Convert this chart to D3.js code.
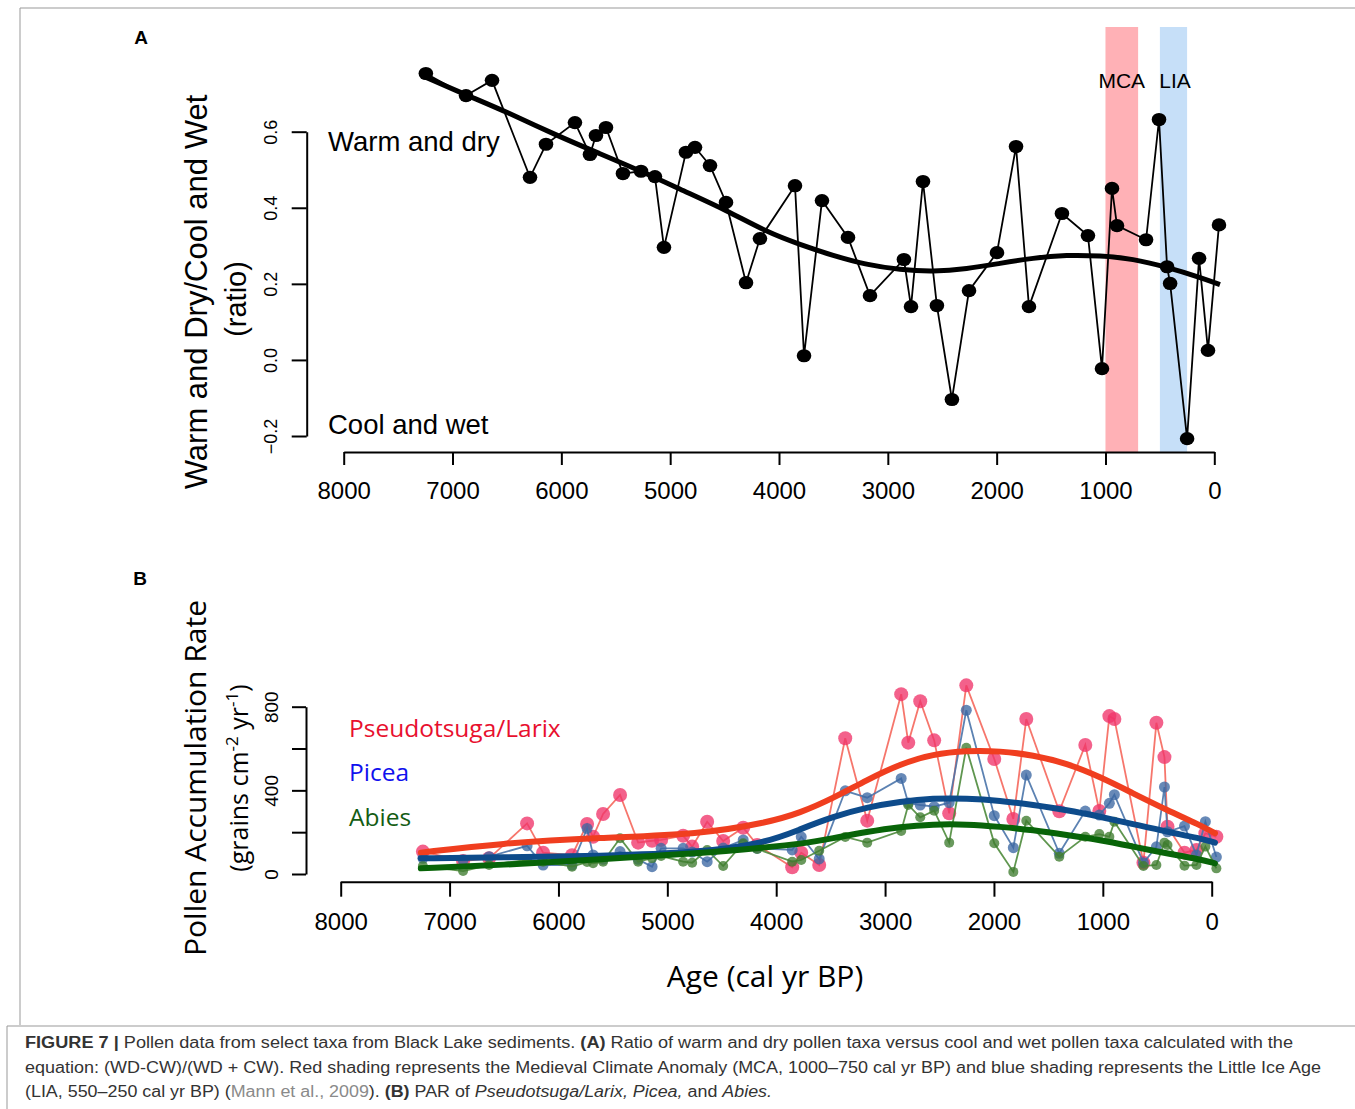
<!DOCTYPE html>
<html>
<head>
<meta charset="utf-8">
<script src="https://cdn.jsdelivr.net/npm/d3@7"></script>
<style>
  body { margin: 0; background: #fff; }
  svg text { font-family: "Liberation Sans", Arial, sans-serif; }
  .myr { font-family: "Open Sans", "Noto Sans", sans-serif !important; }
</style>
</head>
<body>
<div id="chart"></div>
<script>
// sample ages (cal yr BP), shared by both panels
const ages = [7245, 6876, 6637, 6288, 6141, 5875, 5737, 5682, 5590, 5434, 5268, 5140, 5057, 4855, 4772, 4634,
  4487, 4303, 4175, 3853, 3770, 3605, 3366, 3164, 2852, 2787, 2677, 2549, 2411, 2254, 1997, 1822,
  1703, 1400, 1161, 1032, 940, 894, 627, 508, 434, 406, 250, 140, 58, -43];

// panel A: (WD-CW)/(WD+CW) ratio
const ratio = [0.753, 0.695, 0.735, 0.480, 0.567, 0.624, 0.540, 0.590, 0.611, 0.490, 0.496, 0.482, 0.296, 0.546, 0.559, 0.511,
  0.414, 0.203, 0.319, 0.458, 0.011, 0.419, 0.322, 0.169, 0.264, 0.140, 0.469, 0.143, -0.104, 0.182, 0.282, 0.561,
  0.140, 0.385, 0.327, -0.023, 0.451, 0.353, 0.316, 0.632, 0.245, 0.201, -0.207, 0.267, 0.025, 0.355];

// smooth fit
const ratioFitAge = [7253, 6869, 6502, 6042, 5645, 5249, 4882, 4480, 4113, 3806, 3503, 3194, 2888, 2585, 2275, 1969, 1666, 1356, 1051, 748, 437, 131, -52];
const ratioFit = [0.744, 0.696, 0.652, 0.590, 0.542, 0.494, 0.445, 0.393, 0.336, 0.303, 0.274, 0.250, 0.237, 0.232, 0.239, 0.254, 0.268, 0.276, 0.274, 0.266, 0.244, 0.217, 0.198];

// shaded periods
const mca = [1000, 700];
const lia = [500, 250];

// panel B: pollen accumulation rate
const larix = [107, 62, 75, 242, 102, 90, 239, 178, 287, 378, 150, 159, 163, 183, 131, 250,
  158, 221, 139, 32, 102, 43, 649, 255, 860, 628, 826, 639, 290, 902, 550, 263,
  741, 300, 617, 301, 755, 741, 54, 723, 559, 226, 102, 115, 195, 178];
const picea = [75, 67, 83, 135, 43, 43, 218, 91, 70, 107, 70, 35, 123, 123, 105, 59,
  124, 163, 123, 115, 178, 72, 398, 365, 457, 340, 330, 322, 341, 783, 279, 126,
  473, 99, 301, 282, 338, 379, 54, 130, 416, 202, 229, 91, 250, 81];
const abies = [38, 14, 43, 67, 59, 35, 57, 51, 59, 171, 59, 76, 86, 59, 54, 115,
  38, 147, 120, 59, 67, 111, 177, 150, 206, 330, 271, 303, 150, 604, 147, 10,
  255, 83, 178, 191, 178, 250, 38, 43, 150, 139, 40, 43, 131, 27];

const fitAgeB = [7264, 6535, 5617, 4699, 4086, 3780, 3477, 3168, 2862, 2559, 2250, 1944, 1641, 1331, 1026, 723, 413, 107, -30];
const larixFit = [102, 147, 174, 190, 245, 292, 362, 450, 526, 574, 590, 588, 569, 529, 465, 386, 306, 234, 195];
const piceaFit = [75, 80, 86, 102, 150, 214, 274, 319, 346, 362, 362, 351, 330, 306, 274, 239, 202, 171, 150];
const abiesFit = [27, 43, 70, 99, 128, 143, 171, 202, 226, 238, 238, 226, 210, 187, 163, 131, 99, 70, 51];

const xTicks = [8000, 7000, 6000, 5000, 4000, 3000, 2000, 1000, 0];

const W = 1355, H = 1109;
const svg = d3.select("#chart").append("svg").attr("width", W).attr("height", H);

// frame lines
svg.append("path").attr("d", "M20,1025 V8 H1355").attr("fill", "none").attr("stroke", "#999").attr("stroke-width", 1);
svg.append("path").attr("d", "M7,1109 V1026 H1355").attr("fill", "none").attr("stroke", "#999").attr("stroke-width", 1);

// ---------------- panel A ----------------
const xA = d3.scaleLinear().domain([8000, 0]).range([343.7, 1214.3]);
const yA = d3.scaleLinear().domain([-0.2, 0.6]).range([436, 131.7]);

const gA = svg.append("g");

[[mca, "#FFB1B6"], [lia, "#C6DFF8"]].forEach(function(p) {
  gA.append("rect")
    .attr("x", xA(p[0][0])).attr("width", xA(p[0][1]) - xA(p[0][0]))
    .attr("y", 27).attr("height", 452 - 27)
    .attr("fill", p[1]);
});

gA.append("text").attr("x", xA(850)).attr("y", 88).attr("text-anchor", "middle").style("font-size", "21px").text("MCA");
gA.append("text").attr("x", xA(360)).attr("y", 88).attr("text-anchor", "middle").style("font-size", "21px").text("LIA");

const ptsA = ages.map(function(a, i) { return {x: a, y: ratio[i]}; });
const lineA = d3.line().x(d => xA(d.x)).y(d => yA(d.y));

gA.append("path").datum(ptsA).attr("d", lineA).attr("fill", "none").attr("stroke", "#000").attr("stroke-width", 1.8);
gA.selectAll("circle.a").data(ptsA).enter().append("ellipse")
  .attr("cx", d => xA(d.x)).attr("cy", d => yA(d.y)).attr("rx", 7.3).attr("ry", 6.6).attr("fill", "#000");

const fitA = ratioFitAge.map(function(a, i) { return {x: a, y: ratioFit[i]}; });
gA.append("path").datum(fitA).attr("d", lineA.curve(d3.curveBasis))
  .attr("fill", "none").attr("stroke", "#000").attr("stroke-width", 5);

// axes A
const axA = gA.append("g").attr("transform", "translate(0,452)")
  .call(d3.axisBottom(xA).tickValues(xTicks).tickSize(13).tickSizeOuter(0).tickPadding(17).tickFormat(d3.format("d")));
axA.selectAll("text").style("font-size", "24px").attr("dy", "0.71em");
const ayA = gA.append("g").attr("transform", "translate(306.7,0)")
  .call(d3.axisLeft(yA).tickValues([-0.2, 0, 0.2, 0.4, 0.6]).tickSize(15).tickSizeOuter(0)
    .tickFormat(d => d3.format(".1f")(d).replace("-", "\u2212")));
ayA.selectAll("text").attr("transform", "rotate(-90)").attr("x", 0).attr("y", -30).attr("dy", 0)
  .attr("text-anchor", "middle").style("font-size", "18px");
[axA, ayA].forEach(function(a) {
  a.selectAll("path,line").attr("stroke", "#000").attr("stroke-width", 2);
  a.selectAll("text").attr("fill", "#000");
});

gA.append("text").attr("x", 328).attr("y", 151).style("font-size", "27.5px").text("Warm and dry");
gA.append("text").attr("x", 328).attr("y", 434).style("font-size", "27.5px").text("Cool and wet");

gA.append("text").attr("transform", "translate(207,292) rotate(-90)").attr("text-anchor", "middle")
  .style("font-size", "31px").text("Warm and Dry/Cool and Wet");
gA.append("text").attr("transform", "translate(246,299) rotate(-90)").attr("text-anchor", "middle")
  .style("font-size", "29px").text("(ratio)");

svg.append("text").attr("x", 141).attr("y", 44).attr("text-anchor", "middle")
  .style("font-size", "19px").style("font-weight", "bold").text("A");

// ---------------- panel B ----------------
const xB = d3.scaleLinear().domain([8000, 0]).range([340.7, 1211.7]);
const yB = d3.scaleLinear().domain([0, 800]).range([874, 706.7]);
const gB = svg.append("g");
const lineB = d3.line().x(d => xB(d.x)).y(d => yB(d.y));

const taxa = [
  {vals: larix, fit: larixFit, line: "#F5675C", dot: "#F0346A", r: 7, curve: "#F03E1F"},
  {vals: picea, fit: piceaFit, line: "#4A74AA", dot: "#3C68A3", r: 5.5, curve: "#0D4B8B"},
  {vals: abies, fit: abiesFit, line: "#4E8B3C", dot: "#3F7C2F", r: 5, curve: "#086408"}
];

taxa.forEach(function(t) {
  const pts = ages.map(function(a, i) { return {x: a, y: t.vals[i]}; });
  gB.append("path").datum(pts).attr("d", lineB).attr("fill", "none")
    .attr("stroke", t.line).attr("stroke-width", 1.8).attr("stroke-opacity", 0.9);
  gB.append("g").selectAll("circle").data(pts).enter().append("circle")
    .attr("cx", d => xB(d.x)).attr("cy", d => yB(d.y)).attr("r", t.r)
    .attr("fill", t.dot).attr("fill-opacity", 0.78);
});
taxa.forEach(function(t) {
  const pts = fitAgeB.map(function(a, i) { return {x: a, y: t.fit[i]}; });
  gB.append("path").datum(pts).attr("d", d3.line().x(d => xB(d.x)).y(d => yB(d.y)).curve(d3.curveBasis))
    .attr("fill", "none").attr("stroke", t.curve).attr("stroke-width", 6).attr("stroke-linecap", "round");
});

const axB = gB.append("g").attr("transform", "translate(0,881.7)")
  .call(d3.axisBottom(xB).tickValues(xTicks).tickSize(15).tickSizeOuter(0).tickPadding(16).tickFormat(d3.format("d")));
axB.selectAll("text").style("font-size", "24px").attr("dy", "0.71em");
const ayB = gB.append("g").attr("transform", "translate(306,0)")
  .call(d3.axisLeft(yB).tickValues([0, 200, 400, 600, 800]).tickSize(14).tickSizeOuter(0)
    .tickFormat(d => (d % 400 === 0 ? d : "")));
ayB.selectAll("text").attr("transform", "rotate(-90)").attr("x", 0).attr("y", -28).attr("dy", 0)
  .attr("text-anchor", "middle").style("font-size", "19px");
[axB, ayB].forEach(function(a) {
  a.selectAll("path,line").attr("stroke", "#000").attr("stroke-width", 2);
  a.selectAll("text").attr("fill", "#000");
});

// legend
const legend = [["Pseudotsuga/Larix", "#E8102E", 737], ["Picea", "#1010EE", 781], ["Abies", "#135C13", 826]];
legend.forEach(function(l) {
  gB.append("text").attr("class", "myr").attr("x", 349).attr("y", l[2])
    .style("font-size", "24.5px").attr("fill", l[1]).text(l[0]);
});

gB.append("text").attr("class", "myr").attr("transform", "translate(206,778) rotate(-90)")
  .attr("text-anchor", "middle").style("font-size", "30px").text("Pollen Accumulation Rate");
const gl = gB.append("text").attr("class", "myr").attr("transform", "translate(248,778) rotate(-90)")
  .attr("text-anchor", "middle").style("font-size", "25px");
gl.append("tspan").text("(grains cm");
gl.append("tspan").attr("dy", -10).style("font-size", "17px").text("-2");
gl.append("tspan").attr("dy", 10).text(" yr");
gl.append("tspan").attr("dy", -10).style("font-size", "17px").text("-1");
gl.append("tspan").attr("dy", 10).text(")");

gB.append("text").attr("class", "myr").attr("x", 765).attr("y", 987).attr("text-anchor", "middle")
  .style("font-size", "30px").text("Age (cal yr BP)");

svg.append("text").attr("x", 140).attr("y", 585).attr("text-anchor", "middle")
  .style("font-size", "19px").style("font-weight", "bold").text("B");

// ---------------- caption ----------------
const cap = svg.append("g").style("font-size", "16px").attr("fill", "#333");
function capLine(y, len, parts) {
  const t = cap.append("text").attr("x", 25).attr("y", y).attr("textLength", len).attr("lengthAdjust", "spacingAndGlyphs");
  parts.forEach(function(p) {
    const s = t.append("tspan").text(p[0]);
    if (p[1] === "b") s.style("font-weight", "bold");
    if (p[1] === "i") s.style("font-style", "italic");
    if (p[1] === "g") s.attr("fill", "#8a8a8a");
  });
}
capLine(1048, 1268, [["FIGURE 7 |", "b"], [" Pollen data from select taxa from Black Lake sediments. "], ["(A)", "b"],
  [" Ratio of warm and dry pollen taxa versus cool and wet pollen taxa calculated with the"]]);
capLine(1073, 1296, [["equation: (WD-CW)/(WD + CW). Red shading represents the Medieval Climate Anomaly (MCA, 1000\u2013750 cal yr BP) and blue shading represents the Little Ice Age"]]);
capLine(1097, 747, [["(LIA, 550\u2013250 cal yr BP) ("], ["Mann et al., 2009", "g"], ["). "], ["(B)", "b"], [" PAR of "],
  ["Pseudotsuga/Larix, Picea,", "i"], [" and "], ["Abies.", "i"]]);
</script>
</body>
</html>
